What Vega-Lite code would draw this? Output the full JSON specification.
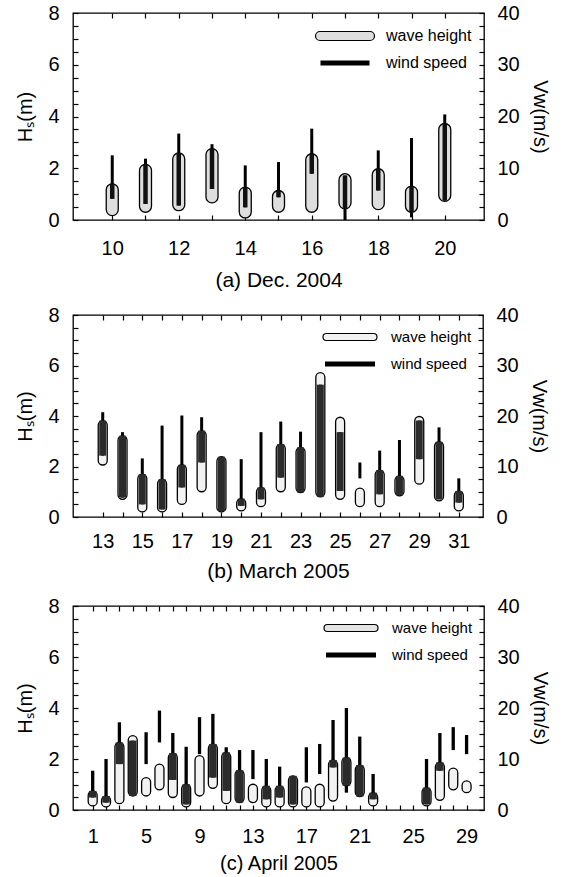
{
  "$schema": "https://vega.github.io/schema/vega-lite/v6.json",
  "padding": {"left": 15, "top": 2, "right": 5, "bottom": 0},
  "spacing": 13,
  "config": {
    "font": "Liberation Sans",
    "view": {"stroke": "#000", "strokeWidth": 1.3},
    "axis": {
      "labelFont": "Liberation Sans", "titleFont": "Liberation Sans",
      "labelFontSize": 20, "titleFontSize": 20, "titleFontWeight": "normal",
      "labelColor": "#000", "titleColor": "#000", "tickColor": "#000",
      "domain": false, "grid": false, "tickSize": -5, "tickWidth": 1.2, "labelPadding": 21
    },
    "legend": {"labelFont": "Liberation Sans"}
  },
  "resolve": {"scale": {"shape": "independent"}, "legend": {"shape": "independent"}},
  "vconcat": [
    {
      "width": 411, "height": 207,
      "data": {"values": [
        {"day":10,"h0":0.17,"h1":1.40,"w0":4.1,"w1":12.5,"c0":4.1,"c1":7.0},
        {"day":11,"h0":0.30,"h1":2.15,"w0":3.1,"w1":11.85,"c0":3.1,"c1":10.75},
        {"day":12,"h0":0.36,"h1":2.59,"w0":2.8,"w1":16.7,"c0":2.8,"c1":12.95},
        {"day":13,"h0":0.66,"h1":2.76,"w0":6.0,"w1":14.65,"c0":6.0,"c1":13.8},
        {"day":14,"h0":0.08,"h1":1.27,"w0":2.45,"w1":10.55,"c0":2.45,"c1":6.35},
        {"day":15,"h0":0.30,"h1":1.14,"w0":4.4,"w1":11.2,"c0":4.4,"c1":5.7},
        {"day":16,"h0":0.30,"h1":2.56,"w0":8.95,"w1":17.65,"c0":8.95,"c1":12.8},
        {"day":17,"h0":0.43,"h1":1.79,"w0":0,"w1":8.6,"c0":2.15,"c1":8.6},
        {"day":18,"h0":0.40,"h1":1.98,"w0":5.7,"w1":13.45,"c0":5.7,"c1":9.9},
        {"day":19,"h0":0.30,"h1":1.31,"w0":0.5,"w1":15.85,"c0":1.5,"c1":6.55},
        {"day":20,"h0":0.72,"h1":3.73,"w0":3.75,"w1":20.4,"c0":3.75,"c1":18.65}
      ]},
      "resolve": {"scale": {"y": "independent"}, "axis": {"x": "independent"}},
      "layer": [
        {"mark": {"type": "bar", "size": 12, "cornerRadius": 6, "fill": "#dedede", "stroke": "#000", "strokeWidth": 1.3},
         "encoding": {
           "x": {"field": "day", "type": "quantitative", "scale": {"domain": [8.97, 21.03], "nice": false, "zero": false},
                 "axis": {"orient": "bottom", "values": [10,11,12,13,14,15,16,17,18,19,20], "labelExpr": "datum.value % 2 == 0 ? datum.label : ''", "labelPadding": 23, "title": "(a) Dec. 2004", "titleFontSize": 21, "titlePadding": 11}},
           "y": {"field": "h0", "type": "quantitative", "scale": {"domain": [0, 8], "nice": false, "zero": false},
                 "axis": {"orient": "left", "title": "Hₛ(m)", "values": [0,0.5,1,1.5,2,2.5,3,3.5,4,4.5,5,5.5,6,6.5,7,7.5,8], "labelExpr": "datum.value % 2 == 0 ? format(datum.value, 'd') : ''", "labelPadding": 19, "titlePadding": 12}},
           "y2": {"field": "h1"}
         }},
        {"mark": {"type": "rule", "strokeWidth": 3, "color": "#000"},
         "encoding": {
           "x": {"field": "day", "type": "quantitative", "axis": {"orient": "top", "labels": false, "title": null, "values": [10,11,12,13,14,15,16,17,18,19,20]}},
           "y": {"field": "w0", "type": "quantitative", "scale": {"domain": [0, 40], "nice": false, "zero": false},
                 "axis": {"orient": "right", "title": "Vw(m/s)", "values": [0,2.5,5,7.5,10,12.5,15,17.5,20,22.5,25,27.5,30,32.5,35,37.5,40], "labelExpr": "datum.value % 10 == 0 ? format(datum.value, 'd') : ''", "labelPadding": 18, "titlePadding": 10}},
           "y2": {"field": "w1"}
         }},
        {"mark": {"type": "rule", "strokeWidth": 4.5, "color": "#111"},
         "encoding": {
           "x": {"field": "day", "type": "quantitative", "axis": null},
           "y": {"field": "c0", "type": "quantitative", "scale": {"domain": [0, 40], "nice": false, "zero": false}, "axis": null},
           "y2": {"field": "c1"}
         }},
        {"data": {"values": [{"series": "wave height"}, {"series": "wind speed"}]},
         "mark": {"type": "point", "opacity": 0, "filled": true, "fill": "#dedede", "stroke": "#000", "strokeWidth": 1.2},
         "encoding": {
           "shape": {"field": "series", "type": "nominal", "scale": {"domain": ["wave height", "wind speed"], "range": ["M-2.5,-0.45 L2.5,-0.45 A0.45,0.45 0 0 1 2.5,0.45 L-2.5,0.45 A0.45,0.45 0 0 1 -2.5,-0.45 Z", "M-2.45,-0.2 L2.45,-0.2 M-2.45,-0.1 L2.45,-0.1 M-2.45,0 L2.45,0 M-2.45,0.1 L2.45,0.1 M-2.45,0.2 L2.45,0.2"]},
                    "legend": {"orient": "top-right", "title": null, "offset": 12, "labelFontSize": 16, "symbolSize": 400, "rowPadding": 8, "labelOffset": 30, "symbolStrokeWidth": 1.2}}
         }}
      ]
    },
    {
      "width": 410, "height": 202,
      "data": {"values": [
        {"day":13,"h0":2.06,"h1":3.82,"w0":12.15,"w1":20.75,"c0":12.15,"c1":19.1},
        {"day":14,"h0":0.70,"h1":3.22,"w0":3.85,"w1":16.8,"c0":3.85,"c1":16.1},
        {"day":15,"h0":0.20,"h1":1.70,"w0":2.5,"w1":11.6,"c0":2.5,"c1":8.5},
        {"day":16,"h0":0.20,"h1":1.50,"w0":1.5,"w1":18.1,"c0":1.5,"c1":7.5},
        {"day":17,"h0":0.50,"h1":2.07,"w0":5.85,"w1":20.1,"c0":5.85,"c1":10.35},
        {"day":18,"h0":1.00,"h1":3.42,"w0":10.8,"w1":19.75,"c0":10.8,"c1":17.1},
        {"day":19,"h0":0.20,"h1":2.39,"w0":1.2,"w1":11.95,"c0":1.2,"c1":11.95},
        {"day":20,"h0":0.24,"h1":0.73,"w0":2.2,"w1":11.45,"c0":2.2,"c1":3.65},
        {"day":21,"h0":0.41,"h1":1.17,"w0":3.5,"w1":16.8,"c0":3.5,"c1":5.85},
        {"day":22,"h0":1.00,"h1":2.89,"w0":7.8,"w1":18.9,"c0":7.8,"c1":14.45},
        {"day":23,"h0":0.97,"h1":2.76,"w0":4.85,"w1":16.9,"c0":4.85,"c1":13.8},
        {"day":24,"h0":0.80,"h1":5.72,"w0":4.0,"w1":26.2,"c0":4.0,"c1":26.2},
        {"day":25,"h0":0.70,"h1":3.95,"w0":5.15,"w1":16.8,"c0":5.15,"c1":16.8},
        {"day":26,"h0":0.41,"h1":1.14,"w0":7.65,"w1":10.8},
        {"day":27,"h0":0.41,"h1":1.86,"w0":4.5,"w1":13.15,"c0":4.5,"c1":9.3},
        {"day":28,"h0":0.84,"h1":1.63,"w0":4.3,"w1":15.25,"c0":4.3,"c1":8.15},
        {"day":29,"h0":1.30,"h1":3.98,"w0":11.45,"w1":19.1,"c0":11.45,"c1":19.1},
        {"day":30,"h0":0.64,"h1":2.98,"w0":3.5,"w1":17.75,"c0":3.5,"c1":14.9},
        {"day":31,"h0":0.24,"h1":1.03,"w0":2.85,"w1":7.65,"c0":2.85,"c1":5.15}
      ]},
      "resolve": {"scale": {"y": "independent"}, "axis": {"x": "independent"}},
      "layer": [
        {"mark": {"type": "bar", "size": 9, "cornerRadius": 4.5, "fill": "#f2f2f2", "stroke": "#000", "strokeWidth": 1.3},
         "encoding": {
           "x": {"field": "day", "type": "quantitative", "scale": {"domain": [11.75, 31.97], "nice": false, "zero": false},
                 "axis": {"orient": "bottom", "values": [13,14,15,16,17,18,19,20,21,22,23,24,25,26,27,28,29,30,31], "labelExpr": "datum.value % 2 == 1 ? datum.label : ''", "labelPadding": 19, "title": "(b) March 2005", "titleFontSize": 21, "titlePadding": 9}},
           "y": {"field": "h0", "type": "quantitative", "scale": {"domain": [0, 8], "nice": false, "zero": false},
                 "axis": {"orient": "left", "title": "Hₛ(m)", "values": [0,0.5,1,1.5,2,2.5,3,3.5,4,4.5,5,5.5,6,6.5,7,7.5,8], "labelExpr": "datum.value % 2 == 0 ? format(datum.value, 'd') : ''", "labelPadding": 19, "titlePadding": 12}},
           "y2": {"field": "h1"}
         }},
        {"mark": {"type": "rule", "strokeWidth": 3, "color": "#000"},
         "encoding": {
           "x": {"field": "day", "type": "quantitative", "axis": {"orient": "top", "labels": false, "title": null, "values": [13,14,15,16,17,18,19,20,21,22,23,24,25,26,27,28,29,30,31]}},
           "y": {"field": "w0", "type": "quantitative", "scale": {"domain": [0, 40], "nice": false, "zero": false},
                 "axis": {"orient": "right", "title": "Vw(m/s)", "values": [0,2.5,5,7.5,10,12.5,15,17.5,20,22.5,25,27.5,30,32.5,35,37.5,40], "labelExpr": "datum.value % 10 == 0 ? format(datum.value, 'd') : ''", "labelPadding": 18, "titlePadding": 10}},
           "y2": {"field": "w1"}
         }},
        {"mark": {"type": "rule", "strokeWidth": 7, "color": "#2b2b2b"},
         "encoding": {
           "x": {"field": "day", "type": "quantitative", "axis": null},
           "y": {"field": "c0", "type": "quantitative", "scale": {"domain": [0, 40], "nice": false, "zero": false}, "axis": null},
           "y2": {"field": "c1"}
         }},
        {"data": {"values": [{"series": "wave height"}, {"series": "wind speed"}]},
         "mark": {"type": "point", "opacity": 0, "filled": true, "fill": "#f2f2f2", "stroke": "#000", "strokeWidth": 1.2},
         "encoding": {
           "shape": {"field": "series", "type": "nominal", "scale": {"domain": ["wave height", "wind speed"], "range": ["M-2.35,-0.35 L2.35,-0.35 A0.35,0.35 0 0 1 2.35,0.35 L-2.35,0.35 A0.35,0.35 0 0 1 -2.35,-0.35 Z", "M-2.5,-0.2 L2.5,-0.2 M-2.5,-0.1 L2.5,-0.1 M-2.5,0 L2.5,0 M-2.5,0.1 L2.5,0.1 M-2.5,0.2 L2.5,0.2"]},
                    "legend": {"orient": "top-right", "title": null, "offset": 11, "labelFontSize": 15, "symbolSize": 400, "rowPadding": 8, "labelOffset": 30, "symbolStrokeWidth": 1.2}}
         }}
      ]
    },
    {
      "width": 411, "height": 204,
      "data": {"values": [
        {"day":1,"h0":0.16,"h1":0.75,"w0":2.45,"w1":7.7,"c0":2.45,"c1":3.75},
        {"day":2,"h0":0.12,"h1":0.55,"w0":1.45,"w1":10.0,"c0":1.45,"c1":2.75},
        {"day":3,"h0":0.25,"h1":2.65,"w0":9.0,"w1":17.2,"c0":9.0,"c1":13.25},
        {"day":4,"h0":0.55,"h1":2.92,"w0":2.75,"w1":13.6,"c0":2.75,"c1":13.6},
        {"day":5,"h0":0.55,"h1":1.27,"w0":9.0,"w1":15.25},
        {"day":6,"h0":0.79,"h1":1.80,"w0":13.25,"w1":19.5},
        {"day":7,"h0":0.49,"h1":2.23,"w0":5.9,"w1":15.1,"c0":5.9,"c1":11.15},
        {"day":8,"h0":0.12,"h1":1.01,"w0":1.1,"w1":12.4,"c0":1.1,"c1":5.05},
        {"day":9,"h0":0.55,"h1":2.13,"w0":10.95,"w1":18.2},
        {"day":10,"h0":0.85,"h1":2.59,"w0":6.35,"w1":18.85,"c0":6.35,"c1":12.95},
        {"day":11,"h0":0.25,"h1":2.26,"w0":3.75,"w1":12.3,"c0":3.75,"c1":11.3},
        {"day":12,"h0":0.29,"h1":1.56,"w0":1.45,"w1":11.75,"c0":1.45,"c1":7.8},
        {"day":13,"h0":0.29,"h1":1.01,"w0":6.05,"w1":11.75},
        {"day":14,"h0":0.12,"h1":0.95,"w0":2.1,"w1":10.0,"c0":2.1,"c1":4.75},
        {"day":15,"h0":0.12,"h1":0.95,"w0":2.45,"w1":8.5,"c0":2.45,"c1":4.75},
        {"day":16,"h0":0.12,"h1":1.34,"w0":1.1,"w1":6.7,"c0":1.1,"c1":6.7},
        {"day":17,"h0":0.12,"h1":0.91,"w0":5.4,"w1":12.3},
        {"day":18,"h0":0.12,"h1":1.01,"w0":7.05,"w1":12.95},
        {"day":19,"h0":0.35,"h1":1.96,"w0":8.35,"w1":17.65,"c0":8.35,"c1":9.8},
        {"day":20,"h0":0.95,"h1":2.06,"w0":3.4,"w1":20.0,"c0":4.75,"c1":10.3},
        {"day":21,"h0":0.53,"h1":1.76,"w0":2.65,"w1":14.4,"c0":2.65,"c1":8.8},
        {"day":22,"h0":0.16,"h1":0.68,"w0":2.1,"w1":7.05,"c0":2.1,"c1":3.4},
        {"day":26,"h0":0.16,"h1":0.88,"w0":1.1,"w1":10.0,"c0":1.1,"c1":4.4},
        {"day":27,"h0":0.38,"h1":1.87,"w0":7.7,"w1":15.1,"c0":7.7,"c1":9.35},
        {"day":28,"h0":0.79,"h1":1.64,"w0":11.75,"w1":16.25},
        {"day":29,"h0":0.68,"h1":1.14,"w0":10.95,"w1":14.7}
      ]},
      "resolve": {"scale": {"y": "independent"}, "axis": {"x": "independent"}},
      "layer": [
        {"mark": {"type": "bar", "size": 9, "cornerRadius": 4.5, "fill": "#f2f2f2", "stroke": "#000", "strokeWidth": 1.3},
         "encoding": {
           "x": {"field": "day", "type": "quantitative", "scale": {"domain": [-0.1, 29.93], "nice": false, "zero": false},
                 "axis": {"orient": "bottom", "values": [1,2,3,4,5,6,7,8,9,10,11,12,13,14,15,16,17,18,19,20,21,22,23,24,25,26,27,28,29], "labelExpr": "datum.value % 4 == 1 ? datum.label : ''", "labelPadding": 21, "title": "(c) April 2005", "titleFontSize": 20, "titlePadding": 7}},
           "y": {"field": "h0", "type": "quantitative", "scale": {"domain": [0, 8], "nice": false, "zero": false},
                 "axis": {"orient": "left", "title": "Hₛ(m)", "values": [0,0.5,1,1.5,2,2.5,3,3.5,4,4.5,5,5.5,6,6.5,7,7.5,8], "labelExpr": "datum.value % 2 == 0 ? format(datum.value, 'd') : ''", "labelPadding": 19, "titlePadding": 12}},
           "y2": {"field": "h1"}
         }},
        {"mark": {"type": "rule", "strokeWidth": 3.3, "color": "#000"},
         "encoding": {
           "x": {"field": "day", "type": "quantitative", "axis": {"orient": "top", "labels": false, "title": null, "values": [1,2,3,4,5,6,7,8,9,10,11,12,13,14,15,16,17,18,19,20,21,22,23,24,25,26,27,28,29]}},
           "y": {"field": "w0", "type": "quantitative", "scale": {"domain": [0, 40], "nice": false, "zero": false},
                 "axis": {"orient": "right", "title": "Vw(m/s)", "values": [0,2.5,5,7.5,10,12.5,15,17.5,20,22.5,25,27.5,30,32.5,35,37.5,40], "labelExpr": "datum.value % 10 == 0 ? format(datum.value, 'd') : ''", "labelPadding": 18, "titlePadding": 10}},
           "y2": {"field": "w1"}
         }},
        {"mark": {"type": "rule", "strokeWidth": 7.5, "color": "#2b2b2b"},
         "encoding": {
           "x": {"field": "day", "type": "quantitative", "axis": null},
           "y": {"field": "c0", "type": "quantitative", "scale": {"domain": [0, 40], "nice": false, "zero": false}, "axis": null},
           "y2": {"field": "c1"}
         }},
        {"data": {"values": [{"series": "wave height"}, {"series": "wind speed"}]},
         "mark": {"type": "point", "opacity": 0, "filled": true, "fill": "#e4e4e4", "stroke": "#000", "strokeWidth": 1.2},
         "encoding": {
           "shape": {"field": "series", "type": "nominal", "scale": {"domain": ["wave height", "wind speed"], "range": ["M-2.35,-0.35 L2.35,-0.35 A0.35,0.35 0 0 1 2.35,0.35 L-2.35,0.35 A0.35,0.35 0 0 1 -2.35,-0.35 Z", "M-2.5,-0.2 L2.5,-0.2 M-2.5,-0.1 L2.5,-0.1 M-2.5,0 L2.5,0 M-2.5,0.1 L2.5,0.1 M-2.5,0.2 L2.5,0.2"]},
                    "legend": {"orient": "top-right", "title": null, "offset": 11, "labelFontSize": 15, "symbolSize": 400, "rowPadding": 8, "labelOffset": 30, "symbolStrokeWidth": 1.2}}
         }}
      ]
    }
  ]
}
